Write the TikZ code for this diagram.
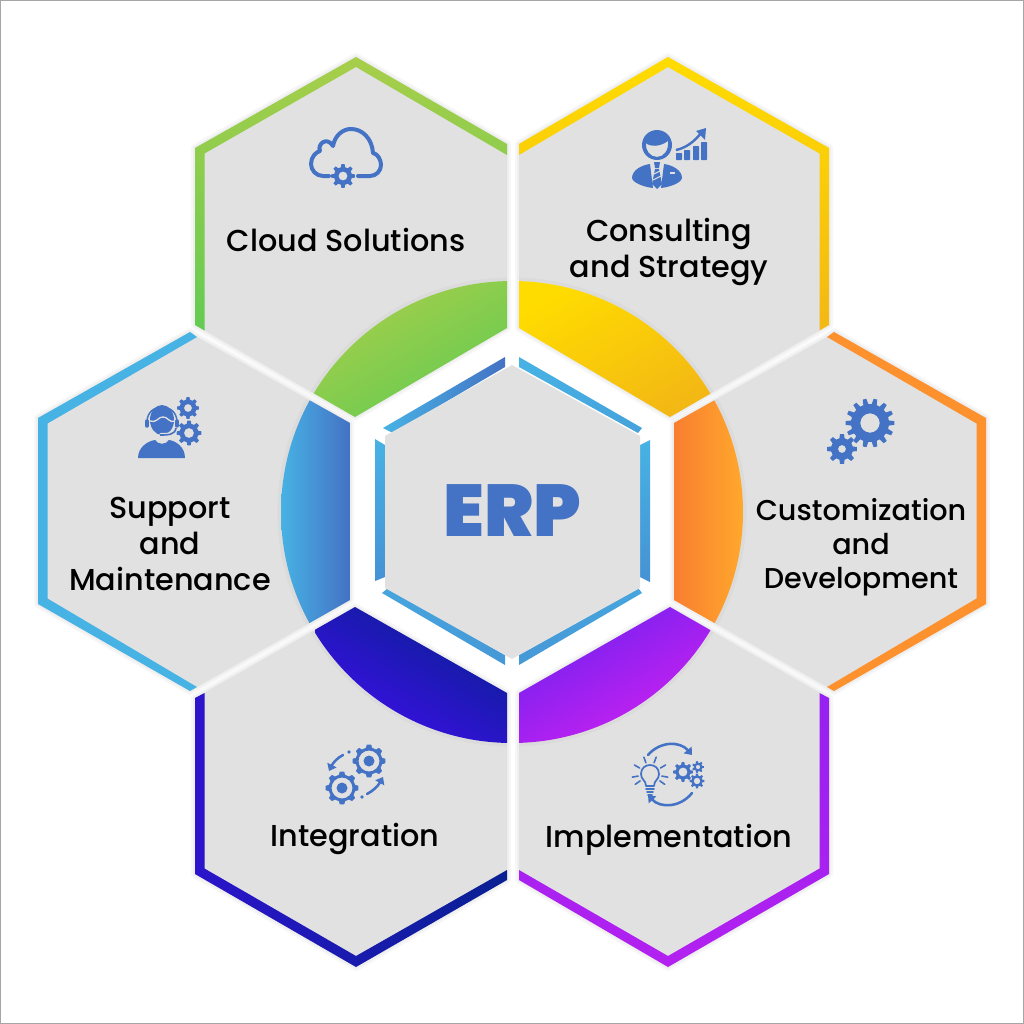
\documentclass[tikz,border=0pt]{standalone}
\usepackage{fontspec}
\setmainfont{Poppins}[UprightFont=* Medium,BoldFont=* Black]
\usetikzlibrary{arrows.meta}
\definecolor{icon}{HTML}{4472C4}
\definecolor{panel}{HTML}{E1E1E1}
\definecolor{greenA}{HTML}{A8CE4A}\definecolor{greenB}{HTML}{64CB52}
\definecolor{yellowA}{HTML}{FFDC00}\definecolor{yellowB}{HTML}{F3B814}
\definecolor{orangeA}{HTML}{F97E30}\definecolor{orangeB}{HTML}{FFA82C}
\definecolor{purpleA}{HTML}{6E20F0}\definecolor{purpleB}{HTML}{D022F0}
\definecolor{navyA}{HTML}{3E0EEA}\definecolor{navyB}{HTML}{082092}
\definecolor{skyA}{HTML}{47B2E4}\definecolor{skyB}{HTML}{4472C4}
\tikzset{
  panelfill/.style={fill=panel},
  halo/.style={draw=black,draw opacity=.03,line join=round},
  label/.style={font=\fontsize{22.7}{27}\selectfont,align=center,text=black,inner sep=0pt},
  iconline/.style={draw=icon,line cap=round,line join=round},
  arrowline/.style={iconline,line width=1.9pt,-{Triangle[length=5pt,width=7.5pt]}}
}
% Outer panels and their coloured rims
\def\panTL{(195,325)--(195,148)--(356,57)--(507,144)--(507,328)--(355,417)--cycle}
\def\rimTL{(195,325)--(195,148)--(356,57)--(507,144)--(507,155)--(356,67)--(204.5,153.5)--(204.5,330.5)--cycle}
\def\panTR{(829,325)--(829,148)--(668,57)--(519,144)--(519,328)--(670,417)--cycle}
\def\rimTR{(829,325)--(829,148)--(668,57)--(519,144)--(519,155)--(668,67)--(819.5,153.5)--(819.5,330.5)--cycle}
\def\panL{(38,418)--(190,332)--(197,337)--(350,423)--(350,600)--(197,687)--(190,691)--(38,604)--cycle}
\def\rimL{(197,337)--(190,332)--(38,418)--(38,604)--(190,691)--(197,687)--(47.5,598.5)--(47.5,423.5)--cycle}
\def\panR{(986,418)--(834,332)--(827,337)--(674,423)--(674,600)--(827,687)--(834,691)--(986,604)--cycle}
\def\rimR{(827,337)--(834,332)--(986,418)--(986,604)--(834,691)--(827,687)--(976.5,598.5)--(976.5,423.5)--cycle}
\def\panBL{(195,698)--(195,874)--(356,967)--(507,880)--(507,693)--(355,607)--cycle}
\def\rimBL{(195,698)--(195,874)--(356,967)--(507,880)--(507,870)--(356,956)--(204.5,868.5)--(204.5,693)--cycle}
\def\panBR{(829,698)--(829,874)--(668,967)--(519,880)--(519,693)--(670,607)--cycle}
\def\rimBR{(829,698)--(829,874)--(668,967)--(519,880)--(519,870)--(668,956)--(819.5,868.5)--(819.5,693)--cycle}
% Toothed wheel: [colour] centre x, centre y, tip radius, root radius, teeth, bore radius
\newcommand\wheel[7][icon]{%
  \pgfmathsetmacro\wstep{360/#6}%
  \begin{scope}[shift={(#2,#3)}]
    \fill[#1,even odd rule] ({-0.3*\wstep}:#5)
      \foreach \wi in {1,...,#6} {
        -- ({(\wi-1)*\wstep-0.3*\wstep}:#5)
        -- ({(\wi-1)*\wstep-0.17*\wstep}:#4)
        -- ({(\wi-1)*\wstep+0.17*\wstep}:#4)
        -- ({(\wi-1)*\wstep+0.3*\wstep}:#5)
      } -- cycle (0,0) circle (#7);
  \end{scope}}
% Sector of the central disc: panel, first and second corner of its shaded box, shading
\newcommand\sector[4]{%
  \begin{scope}
    \clip #1;
    \draw[black,opacity=.025,line width=4pt] (512,512) circle (232);
    \clip (512,512) circle (231);
    \shade[#4] #2 rectangle #3;
  \end{scope}}
\begin{document}
\begin{tikzpicture}[x=0.75pt,y=-0.75pt]
\useasboundingbox (0,0) rectangle (1024,1024);
\fill[white] (0,0) rectangle (1024,1024);
\draw[gray!70,line width=0.75pt] (0.5,0.5) rectangle (1023.5,1023.5);

% Panels with a faint edge shadow
\foreach \pan in {\panTL,\panTR,\panL,\panR,\panBL,\panBR}{
  \path[halo,line width=6pt] \pan;
  \path[halo,line width=3pt] \pan;
  \fill[panelfill] \pan;
}

% Coloured rims
\shade[top color=greenA,bottom color=greenB] \rimTL;
\shade[top color=yellowA,bottom color=yellowB] \rimTR;
\fill[skyA] \rimL;
\fill[orangeA!55!orangeB] \rimR;
\shade[left color=navyA!65!navyB,right color=navyB] \rimBL;
\shade[top color=purpleB!40!purpleA,bottom color=purpleB!70!purpleA] \rimBR;

% Sectors of the central disc
\sector{\panTL}{(310,280)}{(510,420)}{top color=greenA,bottom color=greenB,shading angle=30}
\sector{\panTR}{(515,280)}{(715,420)}{top color=yellowA,bottom color=yellowB,shading angle=30}
\sector{\panL}{(281,400)}{(350,625)}{left color=skyA,right color=skyB}
\sector{\panR}{(674,400)}{(743,625)}{left color=orangeA,right color=orangeB}
\sector{\panBL}{(315,605)}{(510,743)}{top color=navyB,bottom color=navyA,shading angle=-30}
\sector{\panBR}{(515,605)}{(715,743)}{top color=purpleA,bottom color=purpleB,shading angle=30}

% Central hexagon with its six rim segments
\shade[left color=skyA,right color=skyB]
  (505,357)--(505,367)--(393,433)--(383,428)--cycle;
\shade[left color=skyA,right color=skyA!75!skyB]
  (519,357)--(519,367)--(638,433)--(642,428)--cycle;
\shade[top color=skyA,bottom color=skyA!50!skyB]
  (375,439)--(385,445)--(385,577)--(375,581)--cycle;
\shade[top color=skyA,bottom color=skyA!50!skyB]
  (650,440)--(640,445)--(640,577)--(650,582)--cycle;
\shade[left color=skyA!80!skyB,right color=skyA!60!skyB]
  (382,593)--(388,588)--(505,655)--(505,665)--cycle;
\shade[left color=skyA!60!skyB,right color=skyA!80!skyB]
  (519,665)--(519,655)--(638,588)--(642,593)--cycle;
\fill[panelfill] (512,365)--(640,436)--(640,588)--(512,659)--(385,588)--(385,436)--cycle;

% Labels
\node[label] (cloud) at (346,240) {Cloud Solutions};
\node[label] (consult) at (669,252) {Consulting\\and Strategy};
\node[label] (support) at (170,544) {Support\\and\\Maintenance};
\node[label,font=\fontsize{21.5}{25.5}\selectfont] (custom) at (861,547) {Customization\\and\\Development};
\node[label] (integ) at (355,839) {Integration};
\node[label] (impl) at (669,840) {Implementation};
\node[font=\fontsize{55}{55}\selectfont\bfseries,text=icon,inner sep=0pt] (erp) at (512,511) {ERP};

% Cloud with a wheel
\draw[iconline,line width=3pt] (329,176) -- (323,176)
  .. controls (316,176) and (311,170) .. (311,164)
  .. controls (311,157) and (316,152) .. (320,151)
  .. controls (317,144) and (327,136) .. (333,146)
  .. controls (335,135) and (343,129) .. (351,129)
  .. controls (362,129) and (372,138) .. (373,153)
  .. controls (378,154) and (381,160) .. (381,165)
  .. controls (381,171) and (376,176) .. (370,176) -- (358,176);
\wheel{343}{176}{12}{9}{8}{4.5}

% Consultant beside a rising chart
\fill[icon,even odd rule] (657,145) circle (15)
  (646,143) .. controls (650,147) and (660,147) .. (668,141)
  .. controls (669,150) and (664,157) .. (657,157)
  .. controls (650,157) and (645,150) .. (646,143) -- cycle;
\fill[icon] (650,164) -- (653,188) .. controls (644,187) and (633,183) .. (632,178)
  .. controls (632,170) and (642,165) .. (650,164) -- cycle;
\fill[icon] (664,164) -- (661,188) .. controls (670,187) and (681,183) .. (682,178)
  .. controls (682,170) and (672,165) .. (664,164) -- cycle;
\fill[icon] (654,162)--(660,162)--(659,168)--(655,168)--cycle;
\fill[icon] (655,169)--(659,169)--(662,184)--(657,189)--(652,184)--cycle;
\draw[panel,line width=0.8pt] (654,174)--(660,171) (653,180)--(661,176);
\draw[panel,line width=1.2pt] (670,173)--(675,173);
\foreach \bx/\btop in {676/153,684/150,693/146,701/142}
  \fill[icon,rounded corners=0.5pt] (\bx,\btop) rectangle (\bx+6,160);
\draw[icon,line width=1.8pt] (676,150) .. controls (686,148) and (695,141) .. (701,133);
\fill[icon] (706,128)--(705,140)--(696,131)--cycle;

% Support agent with two wheels
\wheel{188}{408}{11}{8.5}{8}{4}
\wheel{189}{433}{12.5}{9.5}{8}{5}
\fill[icon] (162,420) ellipse (12 and 15);
\draw[panel,line width=1pt] (150,421) .. controls (156,424) and (159,416) .. (163,417)
  .. controls (167,416) and (170,424) .. (175,421);
\draw[icon,line width=1.1pt] (147,422) .. controls (147,402) and (177,402) .. (177,422);
\draw[icon,line width=2.6pt,line cap=round] (147,421)--(147,426) (177,421)--(177,426);
\draw[panel,line width=3pt] (176,428) .. controls (175,435) and (168,435) .. (160,435);
\draw[icon,line width=1.2pt] (176,428) .. controls (175,435) and (168,435) .. (160,435);
\fill[icon] (138,458) .. controls (138,447) and (148,441) .. (155,440)
  .. controls (158,445) and (166,445) .. (169,440)
  .. controls (176,441) and (185,447) .. (185,458) -- cycle;

% Pair of meshing wheels
\wheel{842}{449}{15}{11}{8}{4}
\fill[panel] (870,423) circle (21);
\wheel{870}{423}{24.5}{19}{14}{9.7}

% Two outlined wheels with exchange arrows
\wheel{369}{761}{16.5}{13.5}{8}{10.5}
\wheel{342}{788}{16.5}{13.5}{8}{10.5}
\fill[icon] (369,761) circle (5.5) (342,788) circle (5.5) (349,752) circle (1.8) (362,797) circle (1.8);
\draw[arrowline] (343,755) .. controls (337,758) and (333,763) .. (329,771);
\draw[arrowline] (367,794) .. controls (373,791) and (378,786) .. (383,777);

% Light bulb and wheels in a cycle
\draw[iconline,line width=1.3pt] (646,786) .. controls (646,780) and (641,780) .. (641,774)
  .. controls (641,762) and (659,762) .. (659,774)
  .. controls (659,780) and (654,780) .. (654,786) -- cycle;
\draw[iconline,line width=1.3pt] (646,789)--(654,789) (647,792)--(653,792) (648,795)--(652,795);
\foreach \ra in {-10,30,70,110,150,190}
  \draw[iconline,line width=1.2pt] (650,774) ++({-\ra}:12) -- ++({-\ra}:6);
\draw[iconline,line width=1.2pt] (650,774) ++(35:12) -- ++(35:6) (650,774) ++(145:12) -- ++(145:6);
\wheel{683}{772}{10}{7.5}{8}{4.5}
\wheel{698}{767}{6}{4.3}{7}{2.2}
\wheel{697}{781}{7.5}{5.5}{8}{3.3}
\draw[arrowline] (648,755) .. controls (660,741) and (680,741) .. (692,755);
\draw[arrowline] (692,793) .. controls (680,808) and (660,808) .. (648,795);
\end{tikzpicture}
\end{document}
